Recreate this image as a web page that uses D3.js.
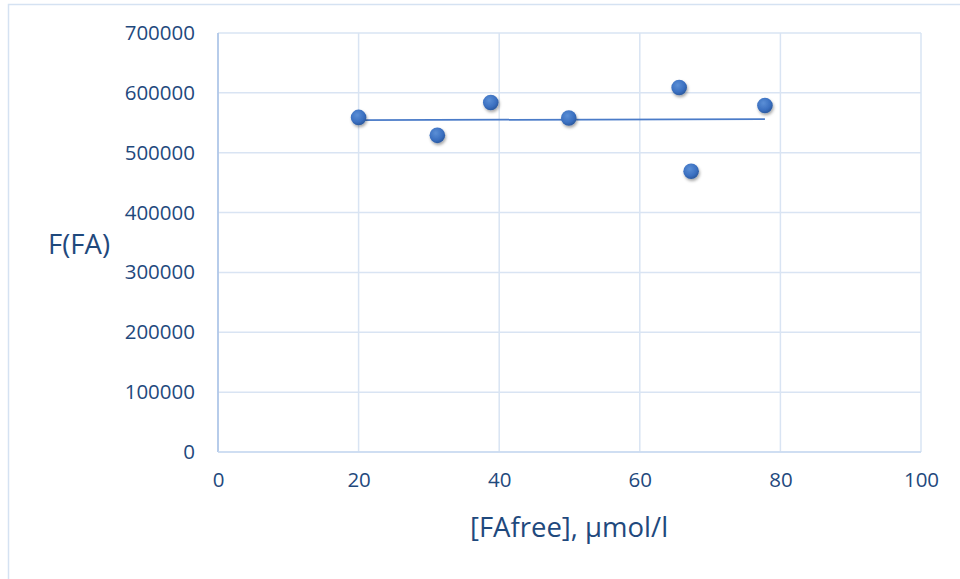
<!DOCTYPE html>
<html>
<head>
<meta charset="utf-8">
<script src="https://cdn.jsdelivr.net/npm/d3@7"></script>
<style>
  html, body { margin: 0; padding: 0; background: #fff; }
  svg { display: block; font-family: "Open Sans", "Noto Sans", sans-serif; }
</style>
</head>
<body>
<svg id="chart" width="960" height="579"></svg>
<script>
// Data
const xValues = [20, 31.2, 38.8, 49.9, 65.6, 67.3, 77.8];
const yValues = [559000, 529000, 584000, 558000, 609000, 469000, 579000];
const xTicks = [0, 20, 40, 60, 80, 100];
const yTicks = [0, 100000, 200000, 300000, 400000, 500000, 600000, 700000];
const xTitle = "[FAfree], µmol/l";
const yTitle = "F(FA)";

const W = 960, H = 579;
const plot = { left: 218, right: 921, top: 33, bottom: 452 };
const textColor = "#1F497D";
const gridColor = "#D9E4F3";

const svg = d3.select("#chart");

// outer chart border
svg.append("rect")
  .attr("x", 8.5).attr("y", 4.5)
  .attr("width", W).attr("height", H)
  .attr("fill", "#fff")
  .attr("stroke", "#D5E2F2").attr("stroke-width", 1.5);

const x = d3.scaleLinear().domain([0, 100]).range([plot.left, plot.right]);
const y = d3.scaleLinear().domain([0, 700000]).range([plot.bottom, plot.top]);

// defs: gradient + shadow
const defs = svg.append("defs");
const grad = defs.append("radialGradient").attr("id", "dotGrad")
  .attr("cx", "40%").attr("cy", "35%").attr("r", "65%");
grad.append("stop").attr("offset", "0%").attr("stop-color", "#5B8FD6");
grad.append("stop").attr("offset", "70%").attr("stop-color", "#3A6FC0");
grad.append("stop").attr("offset", "100%").attr("stop-color", "#2C5AA0");
const shadow = defs.append("filter").attr("id", "shadow")
  .attr("x", "-50%").attr("y", "-50%").attr("width", "200%").attr("height", "200%");
shadow.append("feDropShadow").attr("dx", 1).attr("dy", 2).attr("stdDeviation", 1.6)
  .attr("flood-color", "#000").attr("flood-opacity", 0.35);

// gridlines
const g = svg.append("g");
g.selectAll(".hgrid").data(yTicks).join("line")
  .attr("x1", plot.left).attr("x2", plot.right)
  .attr("y1", d => y(d)).attr("y2", d => y(d))
  .attr("stroke", gridColor).attr("stroke-width", 1.5);
g.selectAll(".vgrid").data(xTicks).join("line")
  .attr("y1", plot.top).attr("y2", plot.bottom)
  .attr("x1", d => x(d)).attr("x2", d => x(d))
  .attr("stroke", gridColor).attr("stroke-width", 1.5);

// axis lines
svg.append("line")
  .attr("x1", plot.left).attr("x2", plot.left)
  .attr("y1", plot.top).attr("y2", plot.bottom)
  .attr("stroke", "#A8C2E6").attr("stroke-width", 1.5);
svg.append("line")
  .attr("x1", plot.left).attr("x2", plot.right)
  .attr("y1", plot.bottom).attr("y2", plot.bottom)
  .attr("stroke", "#C9DAF0").attr("stroke-width", 1.5);

// axes via d3 axis generators (styled)
const yAxis = svg.append("g")
  .attr("transform", `translate(${plot.left},0)`)
  .call(d3.axisLeft(y).tickValues(yTicks).tickSize(0).tickPadding(23).tickFormat(d3.format("d")));
const xAxis = svg.append("g")
  .attr("transform", `translate(0,${plot.bottom})`)
  .call(d3.axisBottom(x).tickValues(xTicks).tickSize(0).tickPadding(20).tickFormat(d3.format("d")));
[yAxis, xAxis].forEach(a => {
  a.select(".domain").remove();
  a.selectAll("text").attr("fill", textColor).attr("font-size", "20.5px")
    .attr("font-family", "'Open Sans', 'Noto Sans', sans-serif");
});

// trendline (linear least squares over the data)
const n = xValues.length;
const mx = d3.mean(xValues), my = d3.mean(yValues);
let sxy = 0, sxx = 0;
for (let i = 0; i < n; i++) {
  sxy += (xValues[i] - mx) * (yValues[i] - my);
  sxx += (xValues[i] - mx) ** 2;
}
const slope = sxy / sxx, intercept = my - slope * mx;
const xMin = d3.min(xValues), xMax = d3.max(xValues);
svg.append("line")
  .attr("x1", x(xMin)).attr("y1", y(intercept + slope * xMin))
  .attr("x2", x(xMax)).attr("y2", y(intercept + slope * xMax))
  .attr("stroke", "#4A7BC8").attr("stroke-width", 1.75);

// points
const pts = xValues.map((v, i) => ({ x: v, y: yValues[i] }));
svg.append("g").selectAll("circle").data(pts).join("circle")
  .attr("cx", d => x(d.x)).attr("cy", d => y(d.y)).attr("r", 7.8)
  .attr("fill", "url(#dotGrad)")
  .attr("filter", "url(#shadow)");

// axis titles
svg.append("text")
  .attr("x", 79).attr("y", 254)
  .attr("text-anchor", "middle")
  .attr("fill", textColor).attr("font-size", "27.5px")
  .text(yTitle);
svg.append("text")
  .attr("x", 569).attr("y", 537)
  .attr("text-anchor", "middle")
  .attr("fill", textColor).attr("font-size", "27.5px")
  .text(xTitle);
</script>
</body>
</html>
